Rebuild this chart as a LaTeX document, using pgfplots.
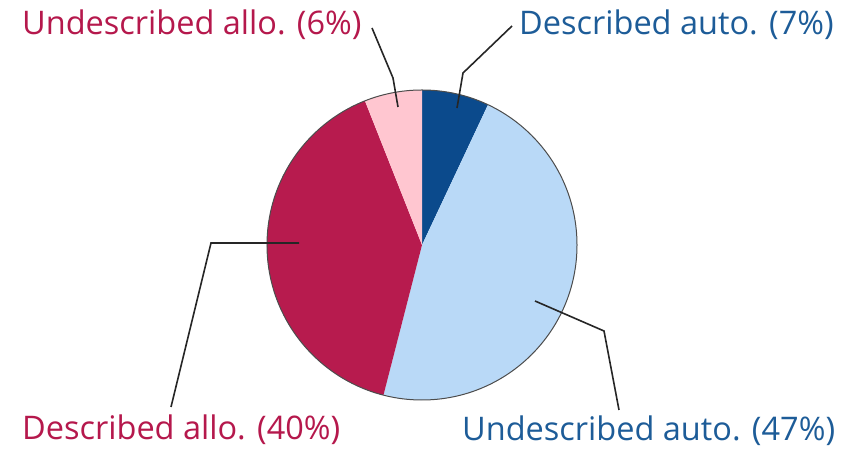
\documentclass[border=0pt]{standalone}
\usepackage{pgfplots}
\usepackage{pgfplotstable}
\pgfplotsset{compat=1.18}
\usepackage{fontspec}
\setmainfont{Open Sans}
\definecolor{darkblue}{HTML}{0B4A8C}
\definecolor{lightblue}{HTML}{B9D9F7}
\definecolor{crimson}{HTML}{B71B4E}
\definecolor{pinkish}{HTML}{FFC6D0}
\definecolor{bluetext}{HTML}{1D5C98}
\definecolor{redtext}{HTML}{B5184C}
\pgfplotstableread{
label pct
DescAuto 7
UndescAuto 47
DescAllo 40
UndescAllo 6
}\piedata
\pgfplotstablegetelem{0}{pct}\of\piedata \let\pA\pgfplotsretval
\pgfplotstablegetelem{1}{pct}\of\piedata \let\pB\pgfplotsretval
\pgfplotstablegetelem{2}{pct}\of\piedata \let\pC\pgfplotsretval
\pgfplotstablegetelem{3}{pct}\of\piedata \let\pD\pgfplotsretval
\pgfmathsetmacro\aZ{90}
\pgfmathsetmacro\aA{\aZ-3.6*\pA}
\pgfmathsetmacro\aB{\aA-3.6*\pB}
\pgfmathsetmacro\aC{\aB-3.6*\pC}
\pgfmathsetmacro\aD{\aC-3.6*\pD}
\begin{document}
\begin{tikzpicture}
\begin{axis}[
  x=1pt, y=1pt, xmin=0, xmax=856, ymin=0, ymax=449,
  hide axis, clip=false, scale only axis,
  at={(0,0)}, anchor=south west,
]
\fill[darkblue]  (axis cs:422,204) -- ++(\aZ:155pt) arc[start angle=\aZ, end angle=\aA, radius=155pt] -- cycle;
\fill[lightblue] (axis cs:422,204) -- ++(\aA:155pt) arc[start angle=\aA, end angle=\aB, radius=155pt] -- cycle;
\fill[crimson]   (axis cs:422,204) -- ++(\aB:155pt) arc[start angle=\aB, end angle=\aC, radius=155pt] -- cycle;
\fill[pinkish]   (axis cs:422,204) -- ++(\aC:155pt) arc[start angle=\aC, end angle=\aD, radius=155pt] -- cycle;
\draw[black!70, line width=1pt] (axis cs:422,204) circle[radius=155pt];
\draw[black!85, line width=1.6pt] (axis cs:398,342) -- (axis cs:393,371) -- (axis cs:372,421);
\draw[black!85, line width=1.6pt] (axis cs:457,341) -- (axis cs:463,376) -- (axis cs:512,423);
\draw[black!85, line width=1.6pt] (axis cs:299,206) -- (axis cs:211,206) -- (axis cs:171,42);
\draw[black!85, line width=1.6pt] (axis cs:535,148) -- (axis cs:604,118) -- (axis cs:619,39);
\node[anchor=west, inner sep=0pt, text=redtext, font=\fontsize{32.5}{38}\selectfont] at (axis cs:22,424) {Undescribed allo. (6\%)};
\node[anchor=west, inner sep=0pt, text=bluetext, font=\fontsize{32.5}{38}\selectfont] at (axis cs:519,424) {Described auto. (7\%)};
\node[anchor=west, inner sep=0pt, text=redtext, font=\fontsize{32.5}{38}\selectfont] at (axis cs:22,19) {Described allo. (40\%)};
\node[anchor=west, inner sep=0pt, text=bluetext, font=\fontsize{32.5}{38}\selectfont] at (axis cs:462,18) {Undescribed auto. (47\%)};
\end{axis}
\pgfresetboundingbox
\path (0,0) rectangle (856pt,449pt);
\end{tikzpicture}
\end{document}
